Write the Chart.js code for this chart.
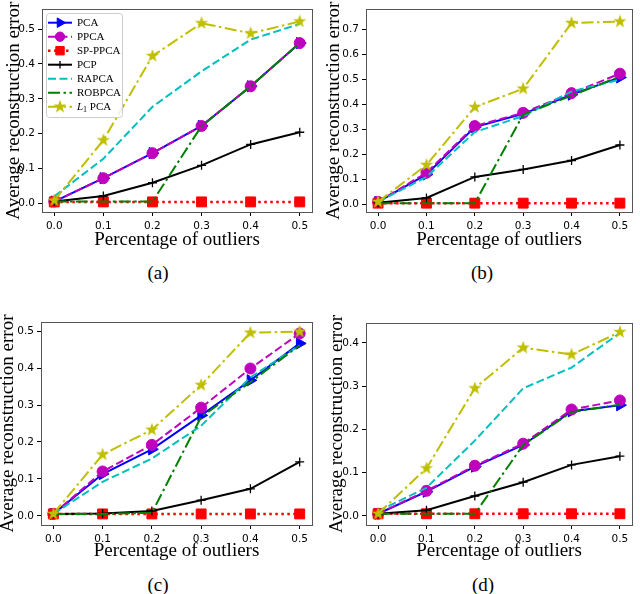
<!DOCTYPE html>
<html>
<head>
<meta charset="utf-8">
<script src="https://cdn.jsdelivr.net/npm/chart.js@4.4.1/dist/chart.umd.min.js"></script>
<style>
  body { margin: 0; background: #fff; width: 640px; height: 594px; position: relative; overflow: hidden; }
  canvas { position: absolute; }
  .cap { position: absolute; font-family: "Liberation Serif", serif; font-size: 19px; transform: translate(-50%, -50%); }
</style>
</head>
<body>
<canvas id="ca" width="320" height="251" style="left:0;top:0"></canvas>
<canvas id="cb" width="320" height="251" style="left:320px;top:0"></canvas>
<canvas id="cc" width="320" height="272" style="left:0;top:290px"></canvas>
<canvas id="cd" width="320" height="272" style="left:320px;top:290px"></canvas>
<div class="cap" style="left:158px;top:273px">(a)</div>
<div class="cap" style="left:482px;top:273px">(b)</div>
<div class="cap" style="left:158px;top:585px">(c)</div>
<div class="cap" style="left:483px;top:585px">(d)</div>
<script>
const xValues = [0.0, 0.1, 0.2, 0.3, 0.4, 0.5];
const methods = ["PCA", "PPCA", "SP-PPCA", "PCP", "RAPCA", "ROBPCA", "L1 PCA"];

// one row per method, same order as methods
const errorsA = [
  [0.005, 0.072, 0.144, 0.222, 0.336, 0.460],
  [0.005, 0.072, 0.144, 0.222, 0.336, 0.460],
  [0.004, 0.004, 0.004, 0.004, 0.004, 0.004],
  [0.005, 0.021, 0.059, 0.109, 0.169, 0.204],
  [0.020, 0.128, 0.277, 0.379, 0.470, 0.515],
  [0.005, 0.005, 0.005, 0.222, 0.336, 0.460],
  [0.008, 0.181, 0.423, 0.517, 0.488, 0.522]
];
const errorsB = [
  [0.010, 0.120, 0.310, 0.363, 0.440, 0.509],
  [0.010, 0.127, 0.314, 0.367, 0.446, 0.524],
  [0.005, 0.005, 0.005, 0.005, 0.005, 0.005],
  [0.007, 0.026, 0.110, 0.140, 0.176, 0.238],
  [0.010, 0.110, 0.290, 0.354, 0.453, 0.500],
  [0.005, 0.005, 0.005, 0.360, 0.436, 0.513],
  [0.010, 0.158, 0.390, 0.464, 0.727, 0.733]
];
const errorsC = [
  [0.005, 0.113, 0.180, 0.272, 0.367, 0.467],
  [0.005, 0.120, 0.192, 0.293, 0.399, 0.494],
  [0.005, 0.005, 0.005, 0.005, 0.005, 0.005],
  [0.005, 0.006, 0.013, 0.042, 0.073, 0.146],
  [0.005, 0.092, 0.155, 0.244, 0.375, 0.462],
  [0.005, 0.005, 0.008, 0.268, 0.362, 0.462],
  [0.005, 0.166, 0.233, 0.354, 0.496, 0.499]
];
const errorsD = [
  [0.005, 0.056, 0.114, 0.164, 0.242, 0.256],
  [0.005, 0.058, 0.116, 0.167, 0.246, 0.267],
  [0.005, 0.005, 0.005, 0.005, 0.005, 0.005],
  [0.005, 0.013, 0.046, 0.078, 0.118, 0.138],
  [0.011, 0.065, 0.174, 0.295, 0.343, 0.423],
  [0.005, 0.005, 0.005, 0.164, 0.240, 0.257],
  [0.005, 0.110, 0.295, 0.389, 0.373, 0.425]
];
const yTicksA = [0.0, 0.1, 0.2, 0.3, 0.4, 0.5];
const yTicksB = [0.0, 0.1, 0.2, 0.3, 0.4, 0.5, 0.6, 0.7];
const yTicksC = [0.0, 0.1, 0.2, 0.3, 0.4, 0.5];
const yTicksD = [0.0, 0.1, 0.2, 0.3, 0.4];

function makeStar(r, color) {
  const c = document.createElement("canvas");
  const s = Math.ceil(r * 2 + 2);
  c.width = s;
  c.height = s;
  const g = c.getContext("2d");
  g.fillStyle = color;
  g.beginPath();
  for (let i = 0; i < 10; i++) {
    const rr = i % 2 ? r * 0.4 : r;
    const a = -Math.PI / 2 + (i * Math.PI) / 5;
    g.lineTo(s / 2 + rr * Math.cos(a), s / 2 + rr * Math.sin(a));
  }
  g.closePath();
  g.fill();
  return c;
}

const dashDot = [12, 3.5, 2.5, 3.5];
const styles = [
  { color: "#0000ff", dash: [], point: "triangle", rot: 90, radius: 6.5, width: 2 },
  { color: "#bf00bf", dash: [8, 3.5], point: "circle", rot: 0, radius: 5.5, width: 2 },
  { color: "#ff0000", dash: [2.5, 3.5], point: "rect", rot: 0, radius: 7, width: 2.5 },
  { color: "#000000", dash: [], point: "cross", rot: 0, radius: 4.5, width: 2, pw: 1.3 },
  { color: "#00bfbf", dash: [8, 3.5], point: false, rot: 0, radius: 0, width: 2 },
  { color: "#008000", dash: dashDot, point: false, rot: 0, radius: 0, width: 2 },
  { color: "#bfbf00", dash: dashDot, point: makeStar(7, "#bfbf00"), rot: 0, radius: 7, width: 2 }
];

const frame = {
  id: "frame",
  afterDatasetsDraw(chart) {
    const a = chart.chartArea;
    const ctx = chart.ctx;
    ctx.save();
    ctx.strokeStyle = "#555";
    ctx.lineWidth = 1;
    ctx.strokeRect(Math.round(a.left) + 0.5, Math.round(a.top) + 0.5,
      Math.round(a.right - a.left), Math.round(a.bottom - a.top));
    ctx.restore();
  }
};

const boxLegend = {
  id: "boxLegend",
  afterDraw(chart) {
    const ctx = chart.ctx;
    ctx.save();
    ctx.beginPath();
    ctx.roundRect(46.5, 13.5, 76, 104, 3);
    ctx.fillStyle = "rgba(255,255,255,0.8)";
    ctx.fill();
    ctx.strokeStyle = "#cccccc";
    ctx.lineWidth = 1;
    ctx.stroke();
    methods.forEach((name, i) => {
      const st = styles[i];
      const y = 22.7 + i * 14;
      ctx.strokeStyle = st.color;
      ctx.fillStyle = st.color;
      ctx.lineWidth = st.width;
      ctx.setLineDash(st.dash);
      ctx.beginPath();
      ctx.moveTo(48, y);
      ctx.lineTo(72, y);
      ctx.stroke();
      ctx.setLineDash([]);
      if (st.point) {
        ctx.lineWidth = st.pw || 1;
        Chart.helpers.drawPoint(ctx, {
          pointStyle: st.point, radius: st.radius * 0.85, rotation: st.rot, borderWidth: st.pw || 1
        }, 60, y);
      }
      ctx.fillStyle = "#000";
      ctx.textBaseline = "middle";
      if (name === "L1 PCA") {
        ctx.font = "italic 11px 'Liberation Serif'";
        ctx.fillText("L", 77, y);
        const w = ctx.measureText("L").width;
        ctx.font = "8px 'Liberation Serif'";
        ctx.fillText("1", 77 + w, y + 3);
        ctx.font = "11px 'Liberation Serif'";
        ctx.fillText(" PCA", 77 + w + 4, y);
      } else {
        ctx.font = "11px 'Liberation Serif'";
        ctx.fillText(name, 77, y);
      }
    });
    ctx.restore();
  }
};

function makeChart(id, series, yMin, yMax, yTicks, area, titleX, withLegend) {
  const el = document.getElementById(id);
  const H = el.height;
  const W = el.width;
  const datasets = series.map((vals, i) => {
    const st = styles[i];
    return {
      label: methods[i],
      data: vals.map((v, k) => ({ x: xValues[k], y: v })),
      borderColor: st.color,
      backgroundColor: st.color,
      borderWidth: st.width,
      borderDash: st.dash,
      pointStyle: st.point || "circle",
      pointRadius: st.point ? st.radius : 0,
      pointRotation: st.rot,
      pointBorderWidth: st.pw || 1,
      pointBackgroundColor: st.color,
      pointBorderColor: st.color,
      tension: 0,
      clip: false,
      order: methods.length - i
    };
  });
  const tickFont = { family: "DejaVu Sans", size: 10.5 };
  const titleFont = { family: "Liberation Serif", size: 19 };
  return new Chart(el.getContext("2d"), {
    type: "line",
    data: { datasets },
    options: {
      responsive: false,
      animation: false,
      events: [],
      layout: { padding: { left: 0, top: area.top, right: W - area.right, bottom: 0 } },
      plugins: { legend: { display: false }, tooltip: { enabled: false } },
      scales: {
        x: {
          type: "linear",
          min: -0.025,
          max: 0.525,
          afterBuildTicks: (s) => { s.ticks = xValues.map((v) => ({ value: v })); },
          afterFit: (s) => { s.height = H - area.bottom; },
          ticks: { callback: (v) => v.toFixed(1), font: tickFont, color: "#000", padding: 4, maxRotation: 0, autoSkip: false },
          grid: { drawOnChartArea: false, tickLength: 4, tickColor: "#000" },
          border: { display: false },
          title: { display: true, text: "Percentage of outliers", font: titleFont, color: "#000", padding: { top: 0, bottom: 0 } }
        },
        y: {
          type: "linear",
          min: yMin,
          max: yMax,
          afterBuildTicks: (s) => { s.ticks = yTicks.map((v) => ({ value: v })); },
          afterFit: (s) => { s.width = area.left; },
          ticks: { callback: (v) => v.toFixed(1), font: tickFont, color: "#000", padding: 3, autoSkip: false },
          grid: { drawOnChartArea: false, tickLength: 4, tickColor: "#000" },
          border: { display: false },
          title: { display: true, text: "Average reconstruction error", font: titleFont, color: "#000", padding: { top: titleX - 11.4, bottom: 0 } }
        }
      }
    },
    plugins: withLegend ? [frame, boxLegend] : [frame]
  });
}

makeChart("ca", errorsA, -0.025, 0.557, yTicksA, { left: 42, top: 7, right: 313, bottom: 212 }, 14.5, true);
makeChart("cb", errorsB, -0.0305, 0.782, yTicksB, { left: 46, top: 7, right: 313, bottom: 212 }, 14.5, false);
makeChart("cc", errorsC, -0.025, 0.525, yTicksC, { left: 41, top: 32, right: 313, bottom: 235 }, 8.5, false);
makeChart("cd", errorsD, -0.021, 0.446, yTicksD, { left: 46, top: 33, right: 313, bottom: 235 }, 17.5, false);
</script>
</body>
</html>
